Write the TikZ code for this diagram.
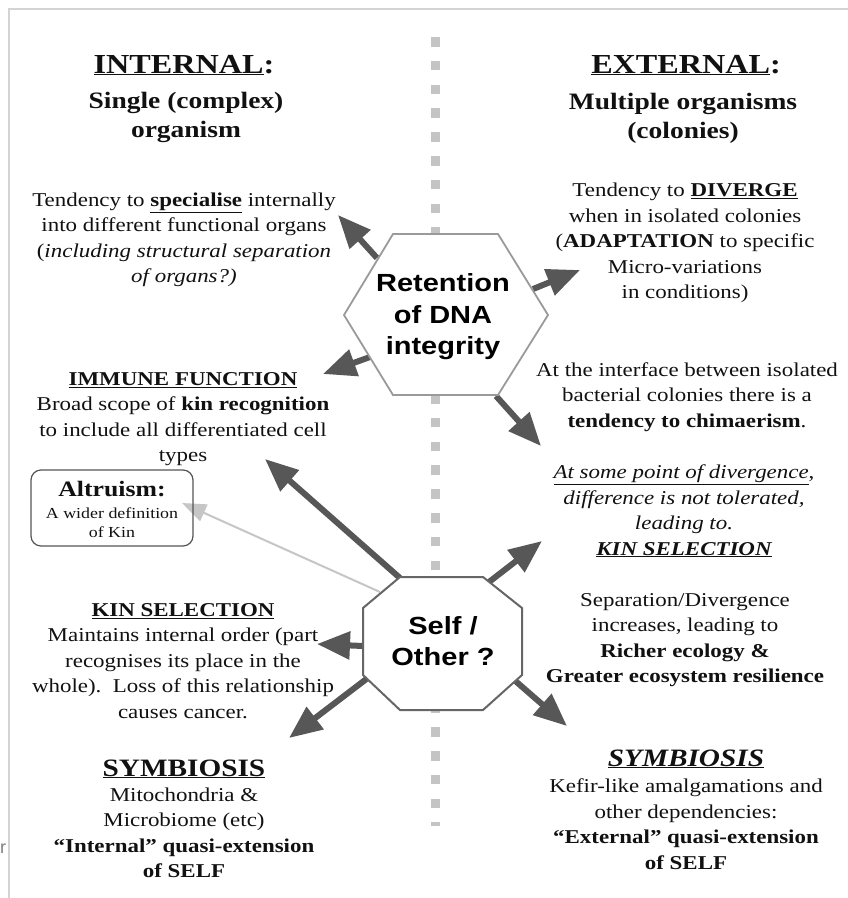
\documentclass[tikz,border=0pt]{standalone}
\usepackage{fontspec}
\setmainfont[FakeStretch=1.17]{Liberation Serif}
\newfontfamily\hexfont[FakeStretch=1.17]{Liberation Sans}
\newfontfamily\plainsans{Liberation Sans}
\usetikzlibrary{arrows.meta}
\definecolor{arrowgrey}{HTML}{575757}
\definecolor{lightarrow}{HTML}{C6C6C6}
\definecolor{dashgrey}{HTML}{C4C4C4}
\definecolor{framegrey}{HTML}{D4D4D4}
\definecolor{hexgrey}{HTML}{9A9A9A}
\definecolor{octgrey}{HTML}{666666}
\definecolor{boxgrey}{HTML}{555555}
\definecolor{txt}{HTML}{111111}
\begin{document}
\begin{tikzpicture}[x=1pt,y=-1pt,
  bodytext/.style={align=center, inner sep=0pt, text=txt, font=\fontsize{19.6}{25.5}\selectfont},
  headtitle/.style={inner sep=0pt, anchor=base, text=txt, font=\fontsize{27.5}{32}\selectfont\bfseries},
  headsub/.style={align=center, inner sep=0pt, text=txt, font=\fontsize{23.5}{29}\selectfont\bfseries},
  symhead/.style={inner sep=0pt, anchor=base, text=txt, font=\fontsize{25}{30}\selectfont\bfseries},
  shapelabel/.style={align=center, inner sep=0pt, text=black, font=\hexfont\fontsize{24.8}{31.5}\selectfont\bfseries},
  bigarrow/.style={draw=arrowgrey, line width=6pt, -{Triangle[length=33pt,width=27pt]}, color=arrowgrey},
  thinarrow/.style={draw=lightarrow, line width=2pt, -{Triangle[length=24pt,width=18pt]}, color=lightarrow},
]
\useasboundingbox (0,0) rectangle (848,898);
\fill[white] (0,0) rectangle (848,898);

% frame
\draw[framegrey, line width=2pt] (848,9) -- (9,9) -- (9,898);
\node[font=\plainsans\fontsize{18}{20}\selectfont, text=gray, inner sep=0pt, anchor=base] (edger) at (3,853) {r};

% dashed divider
\draw[dashgrey, line width=9pt, dash pattern=on 9.5pt off 14.3pt] (435,37) -- (435,826);

% connector end points
\coordinate (dnaNW) at (377,258);
\coordinate (dnaNE) at (533,289);
\coordinate (dnaSW) at (370,357);
\coordinate (dnaSE) at (496,396);
\coordinate (tipSpec) at (338,215);
\coordinate (tipDiv) at (580,270);
\coordinate (tipImm) at (323,374);
\coordinate (tipChim) at (541,446);
\coordinate (selfNW) at (400,578);
\coordinate (selfWNW) at (380,592);
\coordinate (selfW) at (363,646);
\coordinate (selfSW) at (369,677);
\coordinate (selfNE) at (489,582);
\coordinate (selfSE) at (512,678);
\coordinate (tipImm2) at (265,459);
\coordinate (tipAlt) at (182,503);
\coordinate (tipKin) at (317,644);
\coordinate (tipSym) at (289,738);
\coordinate (tipKinR) at (542,541);
\coordinate (tipSymR) at (567,726);

% arrows
\draw[bigarrow] (dnaNW) -- (tipSpec);
\draw[bigarrow] (dnaNE) -- (tipDiv);
\draw[bigarrow] (dnaSW) -- (tipImm);
\draw[bigarrow] (dnaSE) -- (tipChim);
\draw[bigarrow] (selfNW) -- (tipImm2);
\draw[thinarrow] (selfWNW) -- (tipAlt);
\draw[bigarrow] (selfW) -- (tipKin);
\draw[bigarrow] (selfSW) -- (tipSym);
\draw[bigarrow] (selfNE) -- (tipKinR);
\draw[bigarrow] (selfSE) -- (tipSymR);

% hexagon
\draw[hexgrey, line width=1.8pt, fill=white] (393,234) -- (498,234) -- (548,315) -- (498,395) -- (393,395) -- (344,315) -- cycle;
\node[shapelabel] (dna) at (443,317) {Retention\\of DNA\\integrity};

% octagon
\draw[octgrey, line width=2pt, fill=white] (400,577) -- (483,577) -- (522,608) -- (522,675) -- (483,710) -- (400,710) -- (363,675) -- (363,608) -- cycle;
\node[shapelabel] (self) at (443,641) {Self /\\Other ?};

% headers
\node[headtitle] (inttitle) at (184,73) {\underline{INTERNAL}:};
\node[headsub] (intsub) at (186,117) {Single (complex)\\organism};
\node[headtitle] (exttitle) at (686,73) {\underline{EXTERNAL}:};
\node[headsub] (extsub) at (683,118) {Multiple organisms\\(colonies)};

% left column
\node[bodytext] (spec) at (184,240) {Tendency to \underline{\textbf{specialise}} internally\\into different functional organs\\(\textit{including structural separation}\\\textit{of organs?)}};
\node[bodytext] (immune) at (183,419) {\textbf{\underline{IMMUNE FUNCTION}}\\Broad scope of \textbf{kin recognition}\\to include all differentiated cell\\types};
\node[draw=boxgrey, line width=1.2pt, rounded corners=10pt, minimum width=162pt, minimum height=76pt, inner sep=0pt] (altbox) at (112,508) {};
\node[inner sep=0pt, anchor=base, text=txt, font=\fontsize{22}{26}\selectfont\bfseries] (alttitle) at (112,496) {Altruism:};
\node[align=center, inner sep=0pt, text=txt, font=\fontsize{15.3}{19}\selectfont] (alttext) at (112,523) {A wider definition\\of Kin};
\node[bodytext] (kinL) at (183,661) {\textbf{\underline{KIN SELECTION}}\\Maintains internal order (part\\recognises its place in the\\whole).\ \ Loss of this relationship\\causes cancer.};
\node[symhead] (symLhead) at (184,776) {\underline{SYMBIOSIS}};
\node[bodytext] (symL) at (184,833) {Mitochondria \&\\Microbiome (etc)\\\textbf{“Internal” quasi-extension}\\\textbf{of SELF}};

% right column
\node[bodytext] (diverge) at (685,243) {Tendency to \underline{\textbf{DIVERGE}}\\when in isolated colonies\\(\textbf{ADAPTATION} to specific\\Micro-variations\\in conditions)};
\node[bodytext] (chim) at (687,397) {At the interface between isolated\\bacterial colonies there is a\\\textbf{tendency to chimaerism}.};
\node[bodytext] (kinR) at (684,511) {\textit{\underline{At some point of divergence}},\\\textit{difference is not tolerated,}\\\textit{leading to.}\\\textbf{\textit{\underline{KIN SELECTION}}}};
\node[bodytext] (ecol) at (685,640) {Separation/Divergence\\increases, leading to\\\textbf{Richer ecology \&}\\\textbf{Greater ecosystem resilience}};
\node[symhead, font=\fontsize{25}{30}\selectfont\bfseries\itshape] (symRhead) at (686,766) {\underline{SYMBIOSIS}};
\node[bodytext] (symR) at (686,824) {Kefir-like amalgamations and\\other dependencies:\\\textbf{“External” quasi-extension}\\\textbf{of SELF}};
\end{tikzpicture}
\end{document}
